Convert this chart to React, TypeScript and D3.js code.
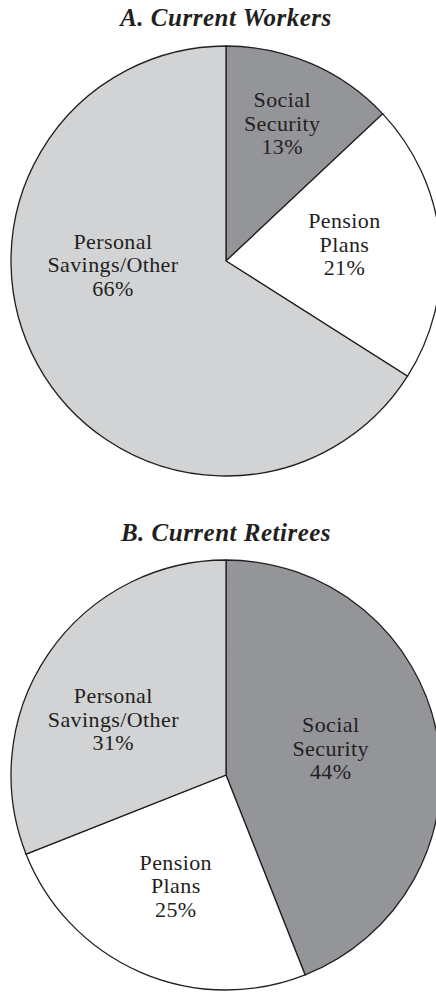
import React, { useEffect, useRef } from 'react'
import * as d3 from 'd3'

// slices, clockwise from 12 o'clock
const categories = ['Social Security', 'Pension Plans', 'Personal Savings/Other']
const workersShares = [13, 21, 66]
const retireesShares = [44, 25, 31]
const panelTitles = ['A. Current Workers', 'B. Current Retirees']

// label lines per category
const labelLines: Record<string, string[]> = {
  'Social Security': ['Social', 'Security'],
  'Pension Plans': ['Pension', 'Plans'],
  'Personal Savings/Other': ['Personal', 'Savings/Other']
}

const fills: Record<string, string> = {
  'Social Security': '#939598',
  'Pension Plans': '#ffffff',
  'Personal Savings/Other': '#d1d3d4'
}

// nudges from the arc centroid, per panel / category
const labelNudge = [
  [[5, -12], [-10, 3], [0, -51]],
  [[-22, 5], [1, 0], [-6, 24]]
]

const W = 436
const H = 994
const R = 215
const INK = '#231f20'
const FONT = "'Liberation Serif', 'Times New Roman', serif"

const App: React.FC = () => {
  const svgRef = useRef<SVGSVGElement | null>(null)

  useEffect(() => {
    if (!svgRef.current) return
    const svg = d3.select(svgRef.current)
    svg.selectAll('*').remove()

    const panels = [
      { title: panelTitles[0], values: workersShares, cy: 261, titleY: 26 },
      { title: panelTitles[1], values: retireesShares, cy: 775, titleY: 541 }
    ]
    const cx = 226

    const pie = d3
      .pie<number>()
      .sort(null)
      .value((d) => d)
    const arc = d3.arc<d3.PieArcDatum<number>>().innerRadius(0).outerRadius(R)
    const labelArc = d3
      .arc<d3.PieArcDatum<number>>()
      .innerRadius(R * 0.6)
      .outerRadius(R * 0.6)

    panels.forEach((p, pi) => {
      svg
        .append('text')
        .attr('x', cx)
        .attr('y', p.titleY)
        .attr('text-anchor', 'middle')
        .style('font-family', FONT)
        .style('font-size', '25px')
        .style('font-weight', 'bold')
        .style('font-style', 'italic')
        .style('letter-spacing', '0.5px')
        .attr('fill', INK)
        .text(p.title)

      const g = svg.append('g').attr('transform', `translate(${cx},${p.cy})`)
      const arcs = pie(p.values)

      g.selectAll('path')
        .data(arcs)
        .join('path')
        .attr('d', arc)
        .attr('fill', (d, i) => fills[categories[i]])
        .attr('stroke', INK)
        .attr('stroke-width', 1.3)

      arcs.forEach((d, i) => {
        const [x, y] = labelArc.centroid(d)
        const [nx, ny] = labelNudge[pi][i]
        const lines = [...labelLines[categories[i]], `${p.values[i]}%`]
        const t = g
          .append('text')
          .attr('text-anchor', 'middle')
          .style('font-family', FONT)
          .style('font-size', '22px')
          .style('letter-spacing', '0.4px')
          .attr('fill', INK)
        lines.forEach((line, li) => {
          t.append('tspan')
            .attr('x', x + nx)
            .attr('y', y + ny + (li - 1) * 23.5)
            .text(line)
        })
      })
    })
  }, [])

  return (
    <svg
      ref={svgRef}
      width={W}
      height={H}
      style={{ position: 'absolute', left: 0, top: 0, background: '#fff', display: 'block' }}
    />
  )
}

export default App
